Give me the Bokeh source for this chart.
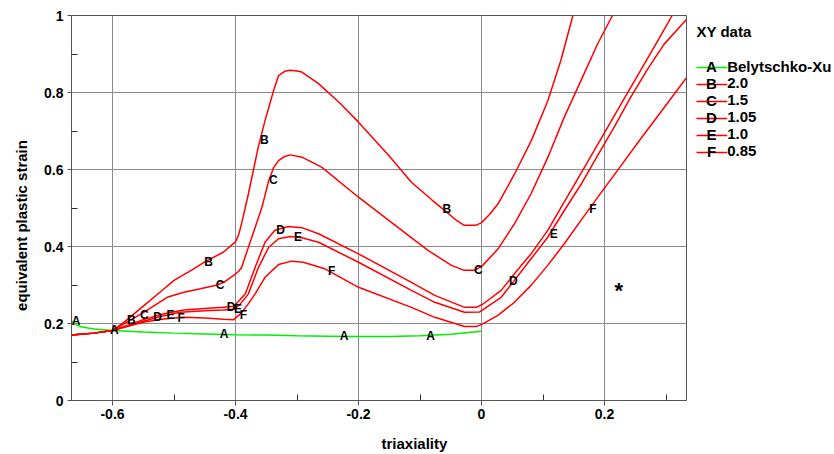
import numpy as np
from bokeh.plotting import figure
from bokeh.models import Range1d, FixedTicker, CustomJSTickFormatter, Label
from bokeh.layouts import row
from bokeh.core.properties import value
from bokeh.embed import file_html
from bokeh.resources import INLINE

FONT = "Liberation Sans"

# ---------------- data ----------------
x_ticks = [-0.6, -0.4, -0.2, 0.0, 0.2]
x_minor = [-0.5, -0.3, -0.1, 0.1, 0.3]
y_ticks = [0.0, 0.2, 0.4, 0.6, 0.8, 1.0]
y_minor = [0.1, 0.3, 0.5, 0.7, 0.9]

x_title = "triaxiality"
y_title = "equivalent plastic strain"
legend_title = "XY data"

letters = ["A", "B", "C", "D", "E", "F"]
names = ["Belytschko-Xu", "2.0", "1.5", "1.05", "1.0", "0.85"]
colors = ["#00ee00", "#ff0000", "#ff0000", "#ff0000", "#ff0000", "#ff0000"]

a_x = [-0.6667, -0.66, -0.65, -0.63, -0.60, -0.55, -0.50, -0.45, -0.40, -0.35, -0.30,
       -0.25, -0.20, -0.15, -0.10, -0.05, 0.0]
a_y = [0.207, 0.197, 0.191, 0.186, 0.182, 0.178, 0.175, 0.173, 0.171, 0.170, 0.168,
       0.167, 0.166, 0.166, 0.168, 0.172, 0.180]

b_x = [-0.6667, -0.63, -0.60, -0.58, -0.55, -0.52, -0.50, -0.47, -0.45, -0.42, -0.40,
       -0.395, -0.39, -0.379, -0.363, -0.352, -0.338, -0.330, -0.320, -0.311, -0.300,
       -0.292, -0.265, -0.23, -0.20, -0.15, -0.114, -0.08, -0.06, -0.04, -0.028, -0.009,
       0.0, 0.013, 0.027, 0.054, 0.081, 0.108, 0.129, 0.148, 0.16]
b_y = [0.170, 0.175, 0.182, 0.205, 0.245, 0.285, 0.312, 0.340, 0.360, 0.385, 0.412,
       0.430, 0.460, 0.537, 0.658, 0.727, 0.805, 0.844, 0.855, 0.858, 0.856,
       0.853, 0.823, 0.772, 0.723, 0.635, 0.567, 0.520, 0.494, 0.467, 0.455, 0.455,
       0.462, 0.483, 0.511, 0.589, 0.675, 0.779, 0.883, 0.996, 1.06]

c_x = [-0.6667, -0.63, -0.60, -0.575, -0.55, -0.511, -0.484, -0.457, -0.43, -0.419,
       -0.403, -0.395, -0.39, -0.379, -0.368, -0.357, -0.346, -0.338, -0.330, -0.320,
       -0.311, -0.292, -0.26, -0.20, -0.119, -0.087, -0.049, -0.028, -0.011, 0.002,
       0.027, 0.0535, 0.0806, 0.108, 0.1346, 0.1617, 0.1887, 0.213, 0.22]
c_y = [0.170, 0.175, 0.182, 0.205, 0.228, 0.268, 0.281, 0.290, 0.300, 0.307,
       0.325, 0.335, 0.346, 0.398, 0.450, 0.502, 0.571, 0.605, 0.623, 0.634,
       0.638, 0.632, 0.606, 0.528, 0.429, 0.390, 0.351, 0.338, 0.338, 0.351,
       0.394, 0.459, 0.537, 0.632, 0.736, 0.831, 0.926, 1.0, 1.03]

d_x = [-0.6667, -0.63, -0.60, -0.57, -0.55, -0.52, -0.484, -0.45, -0.42, -0.403,
       -0.395, -0.384, -0.368, -0.352, -0.336, -0.314, -0.292, -0.265, -0.20, -0.114,
       -0.076, -0.0276, -0.0086, 0.002, 0.032, 0.0535, 0.0806, 0.1077, 0.1346, 0.1617,
       0.1942, 0.2266, 0.259, 0.2914, 0.31, 0.32]
d_y = [0.170, 0.175, 0.182, 0.198, 0.210, 0.224, 0.235, 0.239, 0.242, 0.245,
       0.258, 0.277, 0.346, 0.411, 0.442, 0.452, 0.449, 0.433, 0.381, 0.307,
       0.273, 0.242, 0.242, 0.250, 0.286, 0.329, 0.381, 0.442, 0.5156, 0.590,
       0.6795, 0.769, 0.858, 0.948, 1.0, 1.03]

e_x = [-0.6667, -0.63, -0.60, -0.57, -0.55, -0.52, -0.49, -0.45, -0.42, -0.403,
       -0.393, -0.379, -0.3626, -0.346, -0.330, -0.311, -0.292, -0.265, -0.20, -0.114,
       -0.076, -0.0276, -0.003, 0.032, 0.0535, 0.0806, 0.1077, 0.1346, 0.1617, 0.1887,
       0.2157, 0.2427, 0.2698, 0.2967, 0.3336]
e_y = [0.170, 0.175, 0.182, 0.196, 0.206, 0.219, 0.229, 0.233, 0.235, 0.237,
       0.249, 0.277, 0.346, 0.398, 0.420, 0.426, 0.4226, 0.411, 0.359, 0.286,
       0.255, 0.229, 0.230, 0.268, 0.312, 0.368, 0.424, 0.4935, 0.561, 0.636,
       0.710, 0.788, 0.860, 0.925, 0.99]

f_x = [-0.6667, -0.63, -0.60, -0.57, -0.55, -0.52, -0.495, -0.484, -0.45, -0.42,
       -0.403, -0.392, -0.381, -0.368, -0.352, -0.330, -0.3086, -0.290, -0.2546, -0.20,
       -0.114, -0.076, -0.0276, -0.0086, 0.002, 0.0266, 0.0535, 0.0806, 0.1077, 0.1346,
       0.1617, 0.1936, 0.226, 0.258, 0.291, 0.3336]
f_y = [0.170, 0.175, 0.182, 0.195, 0.203, 0.211, 0.215, 0.216, 0.214, 0.211,
       0.210, 0.225, 0.247, 0.277, 0.320, 0.353, 0.362, 0.359, 0.342, 0.294,
       0.242, 0.216, 0.192, 0.192, 0.199, 0.221, 0.255, 0.299, 0.351, 0.407,
       0.468, 0.538, 0.608, 0.678, 0.748, 0.839]

# positions (x) along each curve where its letter marker is written
a_lab = [-0.6664, -0.6040, -0.4257, -0.2304, -0.0900]
b_lab = [-0.5765, -0.4509, -0.3600, -0.0634]
c_lab = [-0.5554, -0.4321, -0.3455, -0.0122]
d_lab = [-0.5337, -0.4143, -0.3337, 0.0446]
e_lab = [-0.5121, -0.4023, -0.3050, 0.1111]
f_lab = [-0.4942, -0.3932, -0.2494, 0.1750]

curves = [(a_x, a_y, a_lab), (b_x, b_y, b_lab), (c_x, c_y, c_lab),
          (d_x, d_y, d_lab), (e_x, e_y, e_lab), (f_x, f_y, f_lab)]

H = 454
TOP, BOTTOM = 15, 54          # frame borders (frame spans page y 15..400)
YL_W = 36


def strip(w):
    # frameless strip whose y coordinates are page pixels (frames are aligned in a row)
    f = figure(width=w, height=H, x_range=Range1d(0, w), y_range=Range1d(H - BOTTOM, TOP),
               title=None, output_backend="svg", toolbar_location=None,
               min_border_left=0, min_border_right=0, min_border_top=TOP,
               min_border_bottom=BOTTOM, x_axis_type=None, y_axis_type=None)
    f.outline_line_color = None
    f.background_fill_color = "white"
    f.border_fill_color = "white"
    return f


# ---------------- y-axis title strip ----------------
yl = strip(YL_W)
yl.text(x=[20.7], y=[225], text=[y_title], angle=np.pi / 2,
        text_font=value(FONT), text_font_style="bold", text_font_size="15px",
        text_color="black", text_align="center", text_baseline="alphabetic")

# ---------------- main plot ----------------
p = figure(width=688 - YL_W, height=H, x_range=Range1d(-2/3, 1/3), y_range=Range1d(0, 1),
           title=None, output_backend="svg", toolbar_location=None,
           min_border_left=71 - YL_W, min_border_right=2, min_border_top=TOP,
           min_border_bottom=BOTTOM)
p.background_fill_color = "white"
p.border_fill_color = "white"
p.outline_line_color = "#555555"
p.outline_line_width = 1

fmt = CustomJSTickFormatter(code="""
const v = Math.abs(tick) < 1e-9 ? 0 : tick;
let s = v.toFixed(1);
if (s.endsWith('.0')) { s = s.slice(0, -2); }
return s;
""")

p.xaxis.ticker = FixedTicker(ticks=x_ticks, minor_ticks=x_minor)
p.yaxis.ticker = FixedTicker(ticks=y_ticks, minor_ticks=y_minor)
for ax in (p.xaxis, p.yaxis):
    ax.formatter = fmt
    ax.axis_line_color = "#555555"
    ax.major_tick_line_color = "#555555"
    ax.minor_tick_line_color = "#333333"
    ax.major_tick_in = 0
    ax.minor_tick_in = 6
    ax.minor_tick_out = 0
    ax.major_label_text_font = FONT
    ax.major_label_text_font_style = "bold"
    ax.major_label_text_font_size = "14px"
    ax.major_label_text_color = "black"
p.xaxis.major_tick_out = 5
p.xaxis.major_label_standoff = 3
p.yaxis.major_tick_out = 4
p.yaxis.major_label_standoff = 4

# x title: the reference centres it on the whole picture, right of the frame centre
p.xaxis.axis_label = "\u00a0" * 17 + x_title
p.xaxis.axis_label_standoff = 13
p.xaxis.axis_label_text_font = FONT
p.xaxis.axis_label_text_font_style = "bold"
p.xaxis.axis_label_text_font_size = "15px"
p.xaxis.axis_label_text_color = "black"

p.xgrid.grid_line_color = "#8a8a8a"
p.ygrid.grid_line_color = "#8a8a8a"
p.xgrid.grid_line_width = 1
p.ygrid.grid_line_width = 1

for (cx, cy, _), col in zip(curves, colors):
    p.line(cx, cy, line_color=col, line_width=1.5)

for (cx, cy, lab), let in zip(curves, letters):
    ly = list(np.interp(lab, cx, cy))
    p.text(x=lab, y=ly, text=[let] * len(lab), text_font=value(FONT),
           text_font_style="bold", text_font_size="12px", text_color="black",
           text_align="left", text_baseline="alphabetic")

p.add_layout(Label(x=0.2233, y=0.2857, text="*", text_font=FONT, text_font_style="bold",
                   text_font_size="22px", text_align="center", text_baseline="alphabetic",
                   text_color="black"))

# ---------------- legend panel ----------------
lg = strip(146)
row_y = [65.7 + 17 * i for i in range(len(letters))]
lg.text(x=[8], y=[30.7], text=[legend_title], text_font=value(FONT), text_font_style="bold",
        text_font_size="15px", text_color="black", text_align="left",
        text_baseline="alphabetic")
lg.segment(x0=[8] * len(letters), y0=[yy + 1.3 for yy in row_y],
           x1=[38.7] * len(letters), y1=[yy + 1.3 for yy in row_y],
           line_color=colors, line_width=1.5)
lg.text(x=[23] * len(letters), y=row_y, text=letters, text_font=value(FONT),
        text_font_style="bold", text_font_size="15px", text_color="black",
        text_align="center", text_baseline="alphabetic")
lg.text(x=[38.7] * len(letters), y=row_y, text=names, text_font=value(FONT),
        text_font_style="bold", text_font_size="15px", text_color="black",
        text_align="left", text_baseline="alphabetic")

layout = row(yl, p, lg)
open("out.html", "w").write(file_html(layout, INLINE))
